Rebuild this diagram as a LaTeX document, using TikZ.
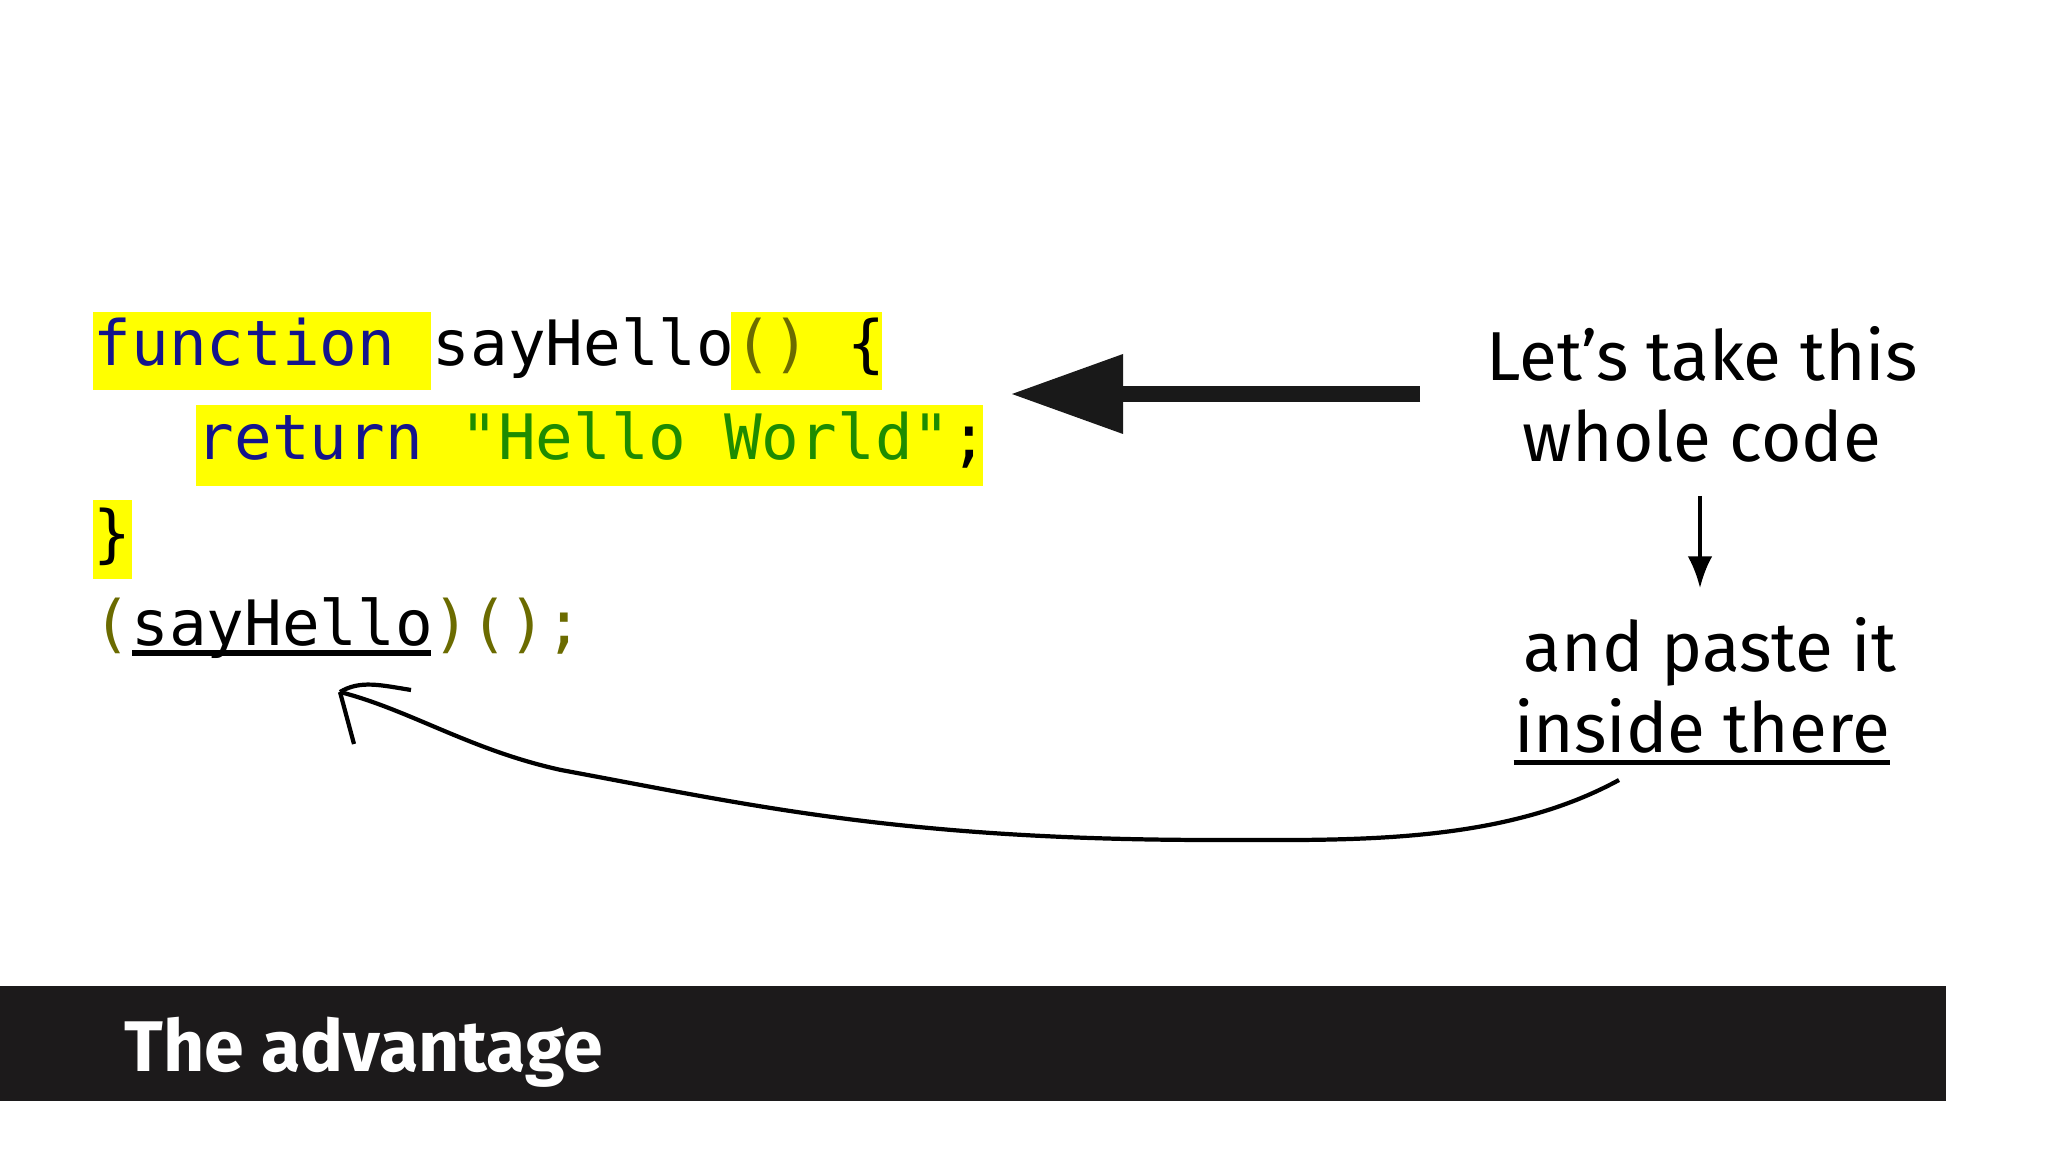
\documentclass[tikz,border=0pt]{standalone}
\usepackage{fontspec}
\setmainfont{Fira Sans}
\newfontfamily\codefont{DejaVu Sans Mono}
\usetikzlibrary{arrows.meta}
\definecolor{kw}{HTML}{14148C}
\definecolor{str}{HTML}{1E8C00}
\definecolor{par}{HTML}{6B6B00}
\definecolor{hl}{HTML}{FFFF00}
\definecolor{bar}{HTML}{1C1A1B}
\begin{document}
\begin{tikzpicture}[x=0.01cm,y=-0.01cm,
  code/.style={inner sep=0pt,anchor=base west,font=\codefont\fontsize{17.8pt}{20pt}\selectfont},
  txt/.style={inner sep=0pt,anchor=base,font=\fontsize{19.7pt}{24pt}\selectfont}]
\useasboundingbox[fill=white] (0,0) rectangle (2048,1152);
% highlights
\fill[hl] (93,312) rectangle (431,390);
\fill[hl] (731,312) rectangle (882,390);
\fill[hl] (196,405) rectangle (983,486);
\fill[hl] (93,500) rectangle (132,579);
% code
\node[code] (l1) at (93,366) {\textcolor{kw}{function} sayHello\textcolor{par}{()} \{};
\node[code] (l2) at (196,460) {\textcolor{kw}{return} \textcolor{str}{"Hello World"};};
\node[code] (l3) at (93,555) {\}};
\node[code] (l4) at (93,646) {\textcolor{par}{(}sayHello\textcolor{par}{)();}};
\coordinate (u1) at (132,653); \coordinate (u2) at (431,653);
\draw[line width=1.6pt] (u1) -- (u2);
% big arrow
\coordinate (bs) at (1420,394); \coordinate (be) at (1120,394);
\draw[line width=4.5pt,black!90] (bs) -- (be);
\fill[black!90] (1012,394) -- (1123,354) -- (1123,434) -- cycle;
% right texts
\node[txt] (t1) at (1702,381) {Let’s take this};
\node[txt] (t2) at (1702,462) {whole code};
\node[txt] (t3) at (1710,672) {and paste it};
\node[txt] (t4) at (1702,752) {inside there};
\draw[line width=1.4pt] ([yshift=-0.09cm]t4.south west) -- ([yshift=-0.09cm]t4.south east);
\draw[line width=1pt,-{Latex[length=9pt,width=7pt]}] (1700,496) -- (1700,588);
% curve
\coordinate (cs) at (1619,780); \coordinate (ct) at (340,692);
\draw[line width=1.2pt] (cs) .. controls (1500,845) and (1350,840) .. (1215,840)
  .. controls (900,840) and (750,805) .. (561,770)
  .. controls (470,750) and (410,710) .. (ct);
\draw[line width=1.2pt] (ct) .. controls (360,680) and (380,685) .. (411,690);
\draw[line width=1.2pt] (ct) -- (354,744);
% bottom bar
\fill[bar] (0,986) rectangle (1946,1101);
\node[inner sep=0pt,anchor=base west,text=white,font=\bfseries\fontsize{20.4pt}{24pt}\selectfont] (title) at (124,1071) {The advantage};
\end{tikzpicture}
\end{document}
